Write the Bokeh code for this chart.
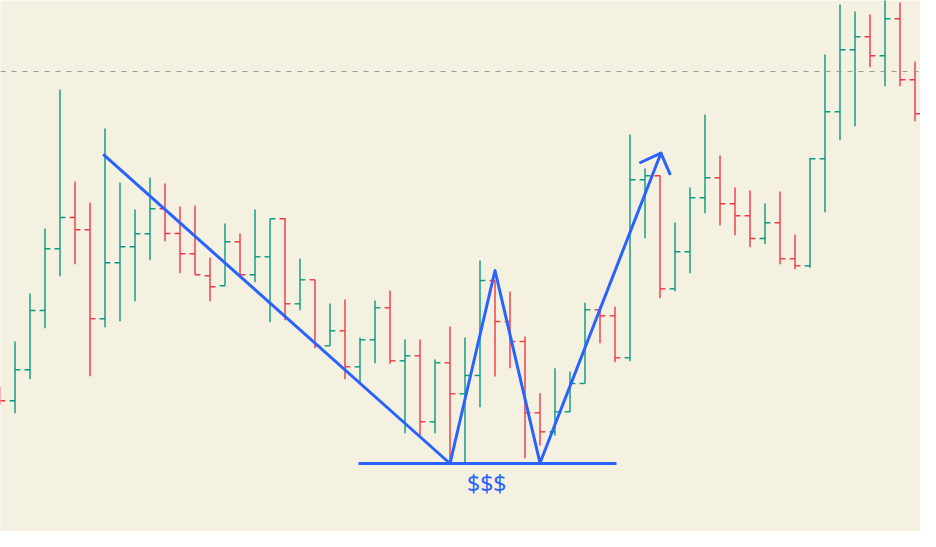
import numpy as np
from bokeh.plotting import figure
from bokeh.models import ColumnDataSource, Span, Range1d
from bokeh.core.properties import value
from bokeh.embed import file_html
from bokeh.resources import INLINE

# ---- OHLC data (bar index 0..62, price units) ----
bar_index = list(range(63))
opens = [155, 146.7, 177.7, 237, 298.7, 330, 317.7, 228.7, 284.7, 300.7,
         313.7, 338.7, 314, 293.7, 271.7, 261.7, 305.7, 272.7, 290.7, 328.7,
         243.7, 267.7, 201.7, 216.7, 180.7, 207.7, 239.7, 186.7, 191.7, 125.7,
         184.7, 153.7, 172, 267, 226, 206, 134.7, 115.7, 135.7, 164,
         237.7, 231.7, 189.7, 367.7, 371.7, 258.7, 295.7, 349.7, 369.7, 343.7,
         331.7, 309, 324.7, 288.7, 281.7, 388.7, 435.7, 497.7, 510.7, 491.7,
         528.7, 467.7, 433.7]
highs = [161, 206, 254, 319, 458, 366, 345, 419, 365, 338,
         370, 364, 341, 342, 290, 324, 314, 338, 328.7, 329.3,
         289, 267.7, 244, 248, 209.7, 247, 257, 208, 208, 188,
         221, 210, 287, 267, 256, 211, 154.3, 179.3, 176, 244.7,
         241, 241, 413, 379, 372.3, 325, 360, 433, 392, 360,
         357, 344, 356, 313, 389.7, 493, 543, 536, 533, 552,
         545, 486, 447]
lows = [143, 134.3, 168.3, 219.3, 271.3, 283.3, 171.3, 220.3, 226.3, 246.3,
        287.3, 306.3, 274.3, 272.7, 246.3, 261.7, 270.3, 265.3, 225.3, 227.3,
        237.3, 199.3, 201.7, 168.3, 164.7, 184.3, 183.7, 114.3, 112, 114.3,
        83.7, 83.7, 140.3, 171, 179.3, 89.3, 102, 112, 135.3, 164,
        204.3, 185.3, 186.3, 309.3, 249.3, 256.3, 274.3, 334.3, 322.3, 312.3,
        300.3, 303.5, 283.3, 278.3, 279.7, 335.3, 407.3, 421.3, 480.3, 461.3,
        461.3, 426.3, 373.3]
closes = [146.7, 177.7, 237, 298.7, 330, 317.7, 228.7, 284.7, 300.7, 313.7,
          338.7, 314, 293.7, 272.7, 260.7, 305.7, 272.7, 290.7, 328.7, 243.7,
          267.7, 201.7, 216.7, 180.7, 207.7, 239.7, 186.7, 191.7, 125.7, 184.7,
          153.7, 172, 267, 226, 206, 134.7, 115.7, 135.7, 164, 237.7,
          231.7, 189.7, 367.7, 371.7, 258.7, 295.7, 349.7, 369.7, 343.7, 331.7,
          309, 324.7, 288.7, 281.7, 388.7, 435.7, 497.7, 510.7, 491.7, 528.7,
          467.7, 433.7, 431.7]

# reference level (dashed)
level_price = 476

# hand-drawn annotation anchors (bar index, price)
trend_x = [6.94, 30.0]
trend_y = [392.3, 84]
base_x = [23.9, 41.1]
base_y = [84, 84]
zig_x = [30.0, 33.0, 36.0, 44.06]
zig_y = [84, 277, 84.5, 394.3]
head_x = [42.70, 44.06, 44.66]
head_y = [385, 394.3, 373.7]
label_x = [32.45]
label_y = [64.5]
label_text = ["$$$"]

UP = "#089981"
DOWN = "#F23645"
BLUE = "#2962FF"
BG = "#F4F1E0"

x = np.array(bar_index, dtype=float)
o = np.array(opens); h = np.array(highs); l = np.array(lows); c = np.array(closes)
colors = [UP if cc >= oo else DOWN for oo, cc in zip(o, c)]
tick = 0.36

src = ColumnDataSource(dict(x=x, o=o, h=h, l=l, c=c, color=colors,
                            xl=x - tick, xr=x + tick))

p = figure(width=920, height=531, output_backend="svg", toolbar_location=None,
           x_range=Range1d(1 - 14.5 / 15, 1 - 14.5 / 15 + 920 / 15),
           y_range=Range1d(16, 547),
           min_border=0, background_fill_color=BG, border_fill_color=BG)
p.xaxis.visible = False
p.yaxis.visible = False
p.grid.visible = False
p.outline_line_color = None

p.add_layout(Span(location=level_price, dimension="width", line_color="#9a9a9a",
                  line_width=1, line_dash="5 6"))

p.segment(x0="x", y0="l", x1="x", y1="h", color="color", line_width=1.4, source=src)
p.segment(x0="xl", y0="o", x1="x", y1="o", color="color", line_width=1.4, source=src)
p.segment(x0="x", y0="c", x1="xr", y1="c", color="color", line_width=1.4, source=src)

p.line(trend_x, trend_y, line_color=BLUE, line_width=3, line_cap="round")
p.line(base_x, base_y, line_color=BLUE, line_width=3)
p.line(zig_x, zig_y, line_color=BLUE, line_width=3, line_join="round", line_cap="round")
p.line(head_x, head_y, line_color=BLUE, line_width=3, line_join="round", line_cap="round")

p.text(x=label_x, y=label_y, text=label_text, text_color=BLUE,
       text_font=value("Noto Sans"), text_font_size="23px",
       text_align="center", text_baseline="middle")

open("out.html", "w").write(file_html(p, INLINE))
